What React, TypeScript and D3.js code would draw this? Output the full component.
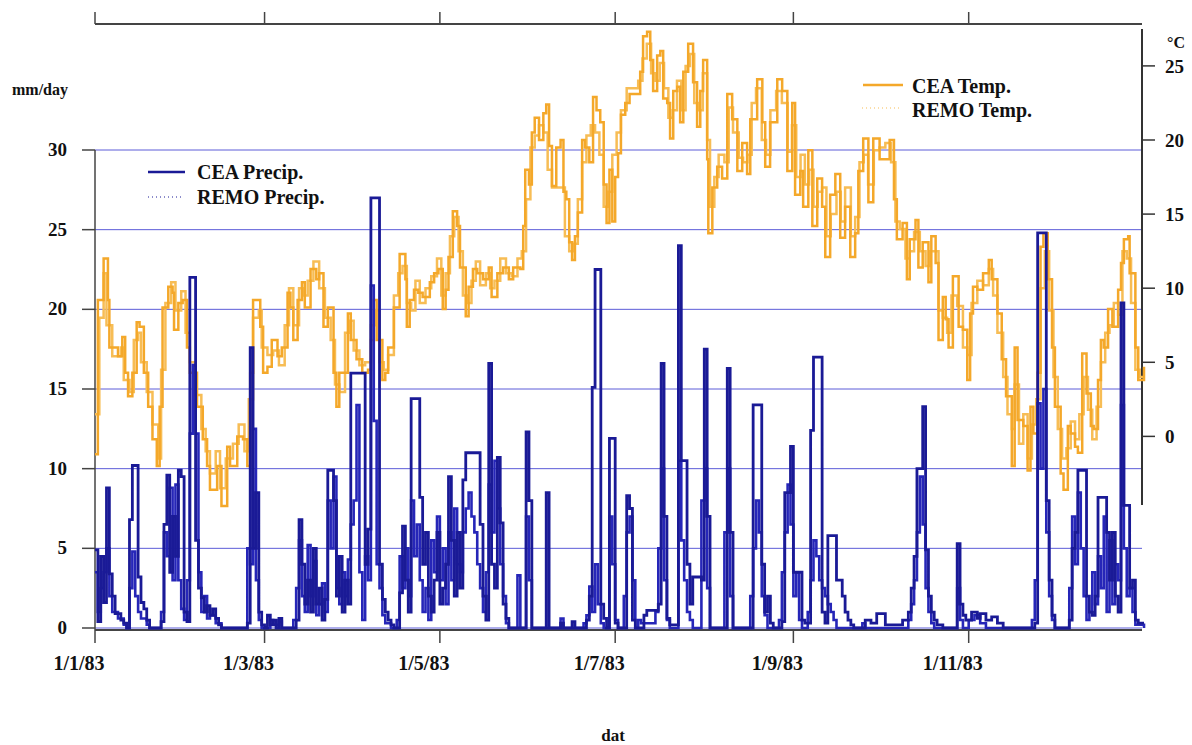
import React from "react";
import * as d3 from "d3";

// ---- data: [day of year 1983, value] (step series) ----
const CEA_PRECIP: [number, number][] = [
[0,4.9],[1,0.4],[2,4.5],[3,1.6],[4,8.8],[5,3.4],[6,2.0],[7,0.9],[8,0.9],[9,0.5],[10,0.3],[11,0],[12,6.8],[13,10.2],[15,3.2],[16,1.6],[17,1.2],[18,0.5],[19,0],[23,0.4],[24,6.5],[25,9.6],[26,3.5],[27,7.0],[28,4.5],[29,9.9],[30,9.5],[31,1.0],[32,0.4],[33,22.0],[35,5.5],[36,2.5],[37,1.9],[38,1.0],[39,1.4],[40,0.8],[41,1.2],[42,0.6],[43,0.2],[44,0],[53,0.3],[54,17.6],[55,5.0],[56,8.5],[57,1.0],[58,0.2],[59,0],[60,0.8],[61,0.2],[62,0.5],[63,0],[64,0.6],[65,0],[70,0.5],[71,6.8],[72,4.0],[73,1.5],[74,3.0],[75,1.0],[76,5.0],[77,1.5],[78,2.5],[79,0.5],[80,1.8],[81,9.9],[83,8.0],[84,2.0],[85,4.5],[86,1.0],[87,3.0],[88,1.5],[89,16.0],[94,4.0],[95,6.2],[96,27.0],[99,4.0],[100,1.8],[101,1.0],[102,0.5],[103,0.2],[104,0],[106,2.2],[107,6.4],[108,3.0],[109,1.0],[110,14.4],[113,8.2],[114,4.0],[115,6.0],[116,2.0],[117,1.0],[118,3.0],[119,6.0],[120,1.5],[121,2.5],[122,4.0],[123,9.5],[124,5.5],[125,2.0],[126,6.0],[127,2.5],[128,9.3],[129,11.0],[134,6.5],[135,2.0],[136,0.5],[137,16.6],[138,4.0],[139,2.5],[140,10.7],[141,6.6],[142,1.5],[143,0.6],[144,0],[150,12.3],[151,8.0],[152,0],[157,8.5],[158,0],[162,0.3],[163,0],[166,0.4],[167,0],[171,0.5],[172,2.0],[173,15.1],[174,22.5],[176,1.5],[177,0.6],[178,0],[179,11.9],[181,0.3],[182,0],[185,8.3],[186,7.5],[187,0.5],[188,0],[191,0.8],[192,1.1],[196,1.5],[197,16.6],[198,7.0],[199,0.6],[200,0.2],[203,24.0],[204,10.5],[206,4.0],[207,1.5],[208,3.2],[211,3.0],[212,17.5],[213,7.0],[214,0],[220,16.3],[221,6.0],[222,0],[229,14.0],[232,4.0],[233,1.0],[234,2.0],[235,0.3],[236,0],[239,0.4],[240,8.5],[242,11.4],[243,3.5],[246,0.5],[247,0.3],[249,12.4],[250,17.0],[253,1.0],[254,0.3],[255,5.8],[258,3.0],[260,2.0],[261,1.0],[262,0.5],[263,0.2],[264,0],[268,0.5],[270,0.3],[272,0.9],[275,0.2],[281,0.5],[283,1.0],[284,2.5],[285,4.5],[286,10.0],[288,13.9],[289,4.9],[290,2.0],[291,1.0],[292,0.5],[293,0.2],[295,0],[300,5.3],[301,1.5],[302,0.8],[303,0.5],[305,1.0],[307,0.6],[308,0.9],[310,0.5],[312,0.7],[314,0.3],[316,0],[327,0.3],[328,24.8],[331,8.0],[332,3.0],[333,0.8],[334,0],[339,0.5],[340,5.0],[341,6.0],[342,9.9],[345,2.0],[346,1.0],[347,0.8],[348,2.0],[349,8.2],[352,6.0],[353,3.0],[354,6.0],[355,2.0],[356,1.0],[357,20.4],[358,7.7],[360,2.5],[361,3.0],[362,0.5],[363,0.3],[365,0.3]
];

const REMO_PRECIP: [number, number][] = [
[0,3.5],[1,1.0],[2,2.5],[3,3.5],[4,5.0],[5,2.0],[6,1.0],[8,0.6],[10,0.2],[11,0],[12,2.5],[13,4.8],[14,2.0],[15,1.0],[16,0.6],[18,0.2],[19,0],[23,1.0],[24,6.0],[25,4.5],[26,8.8],[27,3.0],[28,9.0],[29,3.0],[30,1.2],[31,0.5],[32,3.0],[33,12.2],[34,16.5],[35,12.2],[36,3.5],[37,1.0],[38,2.0],[39,0.6],[40,0.8],[42,0.3],[44,0],[53,5.0],[54,4.0],[55,12.5],[56,3.0],[57,0.5],[58,0],[61,0.5],[62,0.2],[64,0.4],[65,0],[69,0.5],[70,2.5],[71,5.5],[72,2.0],[73,1.0],[74,5.2],[75,2.0],[76,4.2],[77,0.8],[78,1.5],[79,2.8],[80,1.0],[81,8.0],[82,5.0],[83,9.5],[84,2.5],[85,1.5],[86,3.5],[87,2.0],[88,4.3],[89,6.5],[90,8.0],[91,14.0],[92,3.5],[93,0.5],[94,4.5],[95,3.0],[96,21.5],[97,13.0],[98,4.0],[99,2.5],[100,0.8],[101,0.3],[103,0],[105,0.5],[106,4.5],[107,2.5],[108,5.0],[109,2.0],[110,8.0],[111,4.5],[112,6.5],[113,3.0],[114,1.0],[115,2.5],[116,0.5],[117,5.5],[118,3.5],[119,7.0],[120,3.0],[121,5.0],[122,1.5],[123,6.0],[124,3.0],[125,7.5],[126,4.0],[127,3.5],[128,6.0],[129,7.5],[130,8.5],[131,7.0],[132,6.0],[133,4.0],[134,2.5],[135,1.0],[136,3.5],[137,9.0],[138,6.0],[139,10.5],[140,7.5],[141,4.0],[142,2.0],[143,0.3],[144,0],[147,3.3],[148,0],[150,7.0],[151,3.0],[152,0],[162,0.6],[163,0],[170,0.3],[171,0.8],[172,2.6],[173,1.0],[174,4.0],[175,1.5],[176,0.3],[177,0],[179,7.0],[180,4.0],[181,0.5],[182,0],[184,2.0],[185,6.0],[186,7.0],[187,3.0],[188,0],[189,0.5],[190,0.3],[195,1.0],[196,5.0],[197,10.0],[198,3.0],[199,0.5],[200,0],[203,10.5],[204,5.5],[205,3.0],[206,1.0],[207,0.5],[208,0],[211,8.0],[212,10.0],[213,2.5],[214,0],[219,6.0],[220,10.0],[221,2.0],[222,0],[228,2.0],[229,5.0],[230,8.0],[231,6.0],[232,2.0],[233,0.8],[234,0],[238,0.5],[239,3.5],[240,6.0],[241,9.0],[242,6.5],[243,2.0],[244,3.5],[245,0.5],[246,0],[248,1.0],[249,3.0],[250,5.5],[251,4.5],[252,3.0],[253,2.5],[254,2.0],[255,1.5],[256,1.0],[257,0.5],[258,0],[267,0.3],[268,0],[283,0.5],[284,1.5],[285,3.0],[286,6.0],[287,9.5],[288,6.5],[289,2.5],[290,1.0],[291,0.3],[292,0],[300,2.5],[301,0.5],[302,0],[304,0.5],[306,0.8],[308,0.3],[310,0],[326,0.5],[327,3.0],[328,14.1],[329,10.0],[330,15.0],[331,6.0],[332,2.0],[333,0.5],[334,0],[339,2.5],[340,7.0],[341,4.0],[342,8.5],[343,5.0],[344,2.0],[345,0.5],[346,1.0],[347,3.5],[348,1.5],[349,4.5],[350,2.5],[351,7.0],[352,1.0],[353,5.5],[354,1.5],[355,4.0],[356,3.0],[357,14.0],[358,5.0],[359,2.0],[360,2.5],[361,1.0],[362,0.2],[365,0]
];

const CEA_TEMP: [number, number][] = [
[0,-1.2],[1,9.2],[3,12.0],[4.5,9.2],[5,6.0],[8,5.4],[9.5,6.7],[10.5,4.3],[11.5,2.7],[13,4.3],[14.5,7.7],[15.5,7.4],[17,4.3],[18.5,2.0],[20,-0.2],[21.5,-2.0],[22.5,2.0],[23.5,8.7],[25.5,10.1],[27,9.7],[27.5,7.2],[29,9.0],[30.5,9.2],[32,6.0],[33,4.3],[35.5,2.0],[37.5,-0.2],[39,-2.0],[40,-3.6],[42.5,-2.0],[44,-4.7],[46,-0.7],[47,-2.0],[49.5,0],[51.5,-0.2],[53,-2.0],[54,4.3],[55,9.2],[56.5,9.2],[57.5,7.4],[58.5,4.3],[60,4.7],[61.5,6.5],[63.5,5.4],[65,6.0],[67,9.7],[68,8.7],[69,6.5],[70.5,9.2],[72,10.4],[73,8.7],[75,11.3],[77,10.6],[78,11.0],[79.5,7.4],[81,8.7],[83,4.3],[84,2.0],[85,4.3],[88,8.3],[89,6.5],[91,5.2],[93,4.3],[95,4.5],[96,6.5],[97,9.2],[98,6.5],[100,3.8],[101,4.3],[102,6.0],[104,8.7],[106,12.3],[108,10.6],[108.5,7.4],[109.5,9.2],[111,9.9],[112.5,9.7],[114,9.4],[116.5,10.4],[118,11.0],[119.5,11.3],[121,8.6],[122,9.9],[123,12.1],[124.5,15.2],[126,14.2],[127,11.4],[129,8.1],[130,10.1],[131.5,11.3],[133,11.0],[135,10.6],[137,11.4],[138,9.4],[140,11.0],[142,11.4],[144,10.6],[145.5,11.4],[148,11.3],[149,14.2],[149.7,18.0],[151,17.0],[152,20.5],[153,21.5],[154.5,20.0],[156,21.8],[157,22.4],[158,19.6],[159,16.9],[160.5,19.5],[162,20.0],[163,16.5],[164,16.0],[165,13.1],[166,11.9],[167,13.5],[168,15.1],[169.5,20.0],[170.5,19.5],[172,18.5],[173.3,22.9],[174.5,22.0],[175.8,21.2],[177,17.0],[178,14.4],[179,18.0],[180,14.5],[181,17.5],[182,19.1],[183,21.7],[184.5,22.5],[186,23.1],[188.7,23.1],[189.7,24.6],[190.7,27.0],[192.1,27.3],[193.2,25.4],[194.2,23.3],[195.6,25.7],[196.7,26.0],[197.7,22.8],[199.1,22.5],[200.1,20.1],[201.2,23.3],[202.6,23.6],[203.6,21.2],[204.7,24.6],[206.4,26.5],[208.1,23.9],[209.5,20.9],[210.6,23.3],[211.6,25.4],[213,18.7],[213.4,13.7],[214.8,16.8],[216.5,18.2],[218.2,17.4],[220,23.1],[221.7,21.4],[223.5,17.9],[225.2,19.8],[226.9,17.7],[228,21.4],[230.4,24.1],[232.2,21.2],[233.2,18.2],[234.9,21.2],[237.4,24.1],[239.1,23.3],[240.9,17.9],[242.6,22.5],[243.6,16.3],[245.4,17.9],[246.4,15.5],[248.2,19.3],[249.6,14.2],[251.3,17.4],[253,15.5],[254.1,12.1],[255.8,16.3],[257.6,17.7],[259.3,13.4],[261,15.5],[262.8,12.1],[264.5,13.7],[265.6,17.9],[267.3,20.1],[269.1,15.8],[270.8,20.1],[273,18.7],[276.5,20.0],[278,16.0],[279,13.3],[281,14.4],[282.5,10.6],[283.5,13.3],[285.5,14.6],[286.5,11.4],[288,13.1],[290,10.4],[291,13.5],[292.5,11.7],[293.5,6.5],[295,9.4],[296,7.9],[297,6.0],[298.5,10.8],[300.5,7.4],[302,7.2],[303.5,3.8],[304.5,8.3],[305.5,10.1],[307,9.9],[309,11.0],[311,11.9],[312,10.6],[314,8.3],[315.5,5.2],[317,2.7],[319,-2.0],[320,6.0],[321,1.1],[323,0.7],[324.5,-2.3],[325.5,2.0],[326.5,0.2],[328,4.3],[329,12.8],[330,13.7],[331.5,10.6],[333,6.0],[334,2.0],[336,-2.5],[337,-3.6],[338.5,0.7],[339.5,0.2],[341,-0.7],[342,-1.1],[343.5,5.6],[345,2.9],[346.5,0.7],[347.5,0.5],[349,3.8],[350,6.5],[351,6.0],[352.5,8.6],[354,7.4],[356,9.9],[357,11.7],[358,13.3],[359.5,13.5],[360,11.0],[362,6.0],[363,3.8],[365,4.7]
];

const REMO_TEMP: [number, number][] = [
[0,1.5],[1.5,8.0],[3,11.0],[4,7.5],[6,5.4],[9,6.0],[10,3.8],[12,3.0],[13.5,6.5],[15,7.0],[16,5.0],[18,3.0],[20,0.8],[22,-1.5],[23,4.5],[24.5,9.0],[26.5,10.4],[28,8.5],[30,9.8],[31.5,7.0],[33,5.0],[35,2.8],[37,0.5],[38.5,-1.0],[40,-2.5],[42,-1.0],[43.5,-3.5],[45.5,-1.5],[48,-0.5],[50,0.8],[52,-1.0],[53.5,2.5],[55,8.0],[57,8.5],[58,6.0],[60,5.5],[62,5.8],[64,4.8],[66,7.5],[67.5,10.0],[69,7.5],[71,10.0],[72.5,9.5],[74,10.5],[76,11.8],[78,10.0],[80,8.0],[82,6.5],[83.5,3.5],[85,3.0],[87,7.0],[88.5,7.8],[90,5.8],[92,4.8],[94,5.0],[96,7.5],[97.5,8.5],[99,5.0],[100.5,4.5],[102,5.5],[104,9.5],[105.5,11.0],[107,11.5],[108.5,9.0],[110,8.5],[111.5,10.5],[113,9.0],[115,10.0],[117,10.8],[119,12.0],[120.5,9.5],[122,11.0],[123.5,13.5],[125,14.8],[126.5,12.5],[128,9.5],[129.5,9.0],[131,10.5],[132.5,11.8],[134,10.2],[136,11.0],[137.5,10.0],[139,10.5],[141,12.0],[143,11.0],[145,10.8],[147,12.0],[148.5,12.5],[150,16.0],[151.5,19.5],[153,20.3],[154.5,21.0],[156,20.5],[157.5,18.0],[159,16.8],[162,16.8],[163.5,13.5],[165,12.5],[166.5,13.0],[168,16.0],[169.5,18.5],[171,20.3],[172.5,21.0],[174,20.5],[175.5,19.0],[177,15.5],[178.5,16.5],[180,19.0],[181.5,20.5],[183,22.0],[185,23.5],[187,23.5],[189,24.0],[190.5,25.5],[192,26.5],[193.5,24.5],[195,24.0],[196.5,25.2],[198,23.5],[199.5,21.5],[201,22.0],[202.5,24.0],[204,22.0],[205.5,25.0],[207,25.8],[208.5,22.5],[210,22.0],[211.5,24.5],[213,20.0],[214,15.5],[215.5,17.5],[217,19.0],[219,18.5],[220.5,22.2],[222,20.5],[224,18.8],[225.5,18.5],[227,19.0],[228.5,22.5],[230,23.5],[232,20.0],[233.5,19.0],[235,22.0],[237,23.3],[239,22.5],[241,19.2],[242.5,21.0],[244,17.5],[245.5,19.0],[247,17.0],[248.5,18.0],[250,15.5],[251.5,16.5],[253,16.8],[254.5,13.5],[256,15.0],[258,16.5],[259.5,14.5],[261,16.8],[263,13.5],[264.5,14.8],[266,18.5],[267.5,19.0],[269,17.0],[271,19.3],[273,19.5],[275,19.8],[277,18.5],[278.5,14.5],[280,14.0],[282,12.0],[283.5,12.5],[285,13.8],[287,12.5],[289,11.5],[290.5,12.5],[292,12.5],[293.5,8.5],[295,8.0],[296.5,7.0],[298,9.5],[300,8.8],[302,6.0],[303.5,5.5],[305,9.0],[307,10.5],[309,10.2],[311,11.3],[312.5,9.5],[314,7.0],[316,4.0],[317.5,1.5],[319,0.5],[320,3.5],[321.5,-0.5],[323,1.5],[324.5,-1.5],[326,0.8],[327.5,2.5],[329,10.0],[330.5,12.5],[332,8.5],[333.5,4.0],[335,0.5],[336.5,-1.5],[338,-0.8],[339.5,1.0],[341,-0.2],[342.5,1.5],[344,4.0],[345.5,1.8],[347,-0.2],[348.5,2.0],[350,5.0],[351.5,7.0],[353,7.5],[354.5,9.0],[356,8.2],[357.5,12.5],[359,12.0],[360.5,9.0],[362,4.5],[363.5,4.0],[365,4.0]
];

const PRECIP_TICKS = [0, 5, 10, 15, 20, 25, 30];
const TEMP_TICKS = [0, 5, 10, 15, 20, 25];
const PRECIP_LABEL = "mm/day";
const TEMP_LABEL = "°C";
const X_TITLE = "dat";
const LEGEND_PRECIP = ["CEA Precip.", "REMO Precip."];
const LEGEND_TEMP = ["CEA Temp.", "REMO Temp."];

const FONT = "'Liberation Serif', 'Times New Roman', serif";
const C_CEA_P = "#1a1a96";
const C_REMO_P = "#2626b8";
const C_CEA_T = "#f4a82a";
const C_REMO_T = "#f7bd55";
const GRID = "#5c5cd8";
const AXIS = "#444";

const T0 = new Date(1983, 0, 1).getTime();
const dayToDate = (d: number) => new Date(T0 + d * 86400000);

export default function App() {
  const x = d3.scaleTime().domain([new Date(1983, 0, 1), new Date(1984, 0, 1)]).range([95, 1144]);
  const yP = d3.scaleLinear().domain([0, 30]).range([628, 150]);
  const yT = d3.scaleLinear().domain([-4.63, 27.49]).range([505, 29]);
  const xL = 95, xR = 1142;

  const lineP = d3.line<[number, number]>().x(d => x(dayToDate(d[0]))).y(d => yP(d[1])).curve(d3.curveStepAfter);
  const lineT = d3.line<[number, number]>().x(d => x(dayToDate(d[0]))).y(d => yT(d[1])).curve(d3.curveStepAfter);

  const months = x.ticks(d3.timeMonth.every(2)!).filter(d => d.getFullYear() === 1983);
  const fmt = d3.timeFormat("1/%-m/%y");

  return (
    <svg width={1192} height={745} style={{ position: "absolute", left: 0, top: 0, background: "#fff" }}
      fontFamily={FONT} fontWeight="bold">
      {/* gridlines */}
      {PRECIP_TICKS.map(t => (
        <line key={"g" + t} x1={xL} x2={xR} y1={yP(t)} y2={yP(t)} stroke={GRID} strokeWidth={1} />
      ))}
      {/* top axis */}
      <line x1={xL} x2={xR} y1={24} y2={24} stroke={AXIS} strokeWidth={2} />
      {months.map(m => (
        <line key={"tt" + m.getTime()} x1={x(m)} x2={x(m)} y1={24} y2={12} stroke={AXIS} strokeWidth={1.5} />
      ))}
      {/* bottom axis */}
      <line x1={xL} x2={xR} y1={630} y2={630} stroke={AXIS} strokeWidth={2} />
      {months.map(m => (
        <g key={"bt" + m.getTime()}>
          <line x1={x(m)} x2={x(m)} y1={630} y2={643} stroke={AXIS} strokeWidth={1.5} />
          <text x={x(m) - 16} y={670} textAnchor="middle" fontSize={20} fill="#111">{fmt(m)}</text>
        </g>
      ))}
      <text x={613} y={741} textAnchor="middle" fontSize={17} fill="#111">{X_TITLE}</text>
      {/* left axis */}
      <line x1={xL} x2={xL} y1={150} y2={630} stroke={AXIS} strokeWidth={1.5} />
      {PRECIP_TICKS.map(t => (
        <g key={"lt" + t}>
          <line x1={82} x2={xL} y1={yP(t)} y2={yP(t)} stroke={AXIS} strokeWidth={1.5} />
          <text x={67} y={yP(t) + 6} textAnchor="end" fontSize={19} fill="#111">{t}</text>
        </g>
      ))}
      <text x={12} y={95} fontSize={16} fill="#111">{PRECIP_LABEL}</text>
      {/* right axis */}
      <line x1={xR} x2={xR} y1={29} y2={505} stroke="#333" strokeWidth={2} />
      {TEMP_TICKS.map(t => (
        <g key={"rt" + t}>
          <line x1={xR} x2={1155} y1={yT(t)} y2={yT(t)} stroke="#333" strokeWidth={1.5} />
          <text x={1165} y={yT(t) + 7} fontSize={19} fill="#111">{t}</text>
        </g>
      ))}
      <text x={1167} y={48} fontSize={16} fill="#111">{TEMP_LABEL}</text>

      {/* temperature lines */}
      <path d={lineT(REMO_TEMP) || ""} fill="none" stroke={C_REMO_T} strokeWidth={2.5} />
      <path d={lineT(CEA_TEMP) || ""} fill="none" stroke={C_CEA_T} strokeWidth={2.5} />
      {/* precipitation lines */}
      <path d={lineP(REMO_PRECIP) || ""} fill="none" stroke={C_REMO_P} strokeWidth={2.6} />
      <path d={lineP(CEA_PRECIP) || ""} fill="none" stroke={C_CEA_P} strokeWidth={2.8} />

      {/* precip legend */}
      <line x1={148} x2={185} y1={172} y2={172} stroke={C_CEA_P} strokeWidth={2.5} />
      <text x={197} y={179} fontSize={20} fill="#111">{LEGEND_PRECIP[0]}</text>
      <line x1={148} x2={183} y1={197} y2={197} stroke={C_CEA_P} strokeWidth={1} strokeDasharray="1 3" />
      <text x={197} y={204} fontSize={20} fill="#111">{LEGEND_PRECIP[1]}</text>
      {/* temp legend */}
      <line x1={863} x2={903} y1={85} y2={85} stroke={C_CEA_T} strokeWidth={2.5} />
      <text x={912} y={93} fontSize={20} fill="#111">{LEGEND_TEMP[0]}</text>
      <line x1={862} x2={902} y1={108} y2={108} stroke={C_REMO_T} strokeWidth={1} strokeDasharray="1 3" />
      <text x={912} y={117} fontSize={20} fill="#111">{LEGEND_TEMP[1]}</text>
    </svg>
  );
}
